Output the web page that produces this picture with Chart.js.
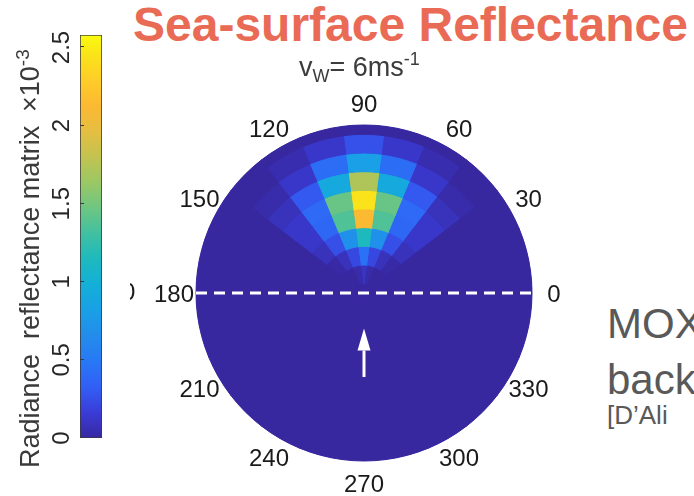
<!DOCTYPE html>
<html>
<head>
<meta charset="utf-8">
<title>Sea-surface Reflectance</title>
<script src="https://cdn.jsdelivr.net/npm/chart.js@4.4.1/dist/chart.umd.min.js"></script>
<style>
  html, body { margin: 0; padding: 0; width: 694px; height: 496px; overflow: hidden; background: #fff; }
  body { position: relative; font-family: "Liberation Sans", Arial, Helvetica, sans-serif; }
  .abs { position: absolute; white-space: nowrap; }
  #title { left: 133px; top: 1px; font-size: 48px; line-height: 48px; font-weight: bold; color: #ea6b55; }
  #wind { left: 299px; top: 54px; font-size: 27px; line-height: 27px; color: #3c3c3c; }
  #wind .sub { font-size: 18px; position: relative; top: 6px; }
  #wind .sup { font-size: 18px; position: relative; top: -11px; }
  #cbar-box { left: 0; top: 470px; width: 470px; height: 110px; transform-origin: 0 0; transform: rotate(-90deg); }
  .vlabel { transform-origin: 0 0; transform: rotate(-90deg); font-size: 27px; line-height: 27px; color: #3a3a3a; }
  #cbar-label { left: 17px; top: 468px; }
  #cbar-exp { left: 17px; top: 112px; }
  #cbar-exp .sup { font-size: 19px; position: relative; top: -10px; }
  #polar-box { left: 124px; top: 53px; width: 480px; height: 480px; }
  #stray { left: 130px; top: 278px; width: 8px; height: 30px; overflow: hidden; }
  #stray span { position: absolute; left: -8px; top: 2px; font-size: 24px; line-height: 24px; color: #1a1a1a; }
  .note { color: #595959; }
  #n1 { left: 607px; top: 303px; font-size: 42px; line-height: 42px; }
  #n2 { left: 607px; top: 359px; font-size: 42px; line-height: 42px; }
  #n3 { left: 607px; top: 402px; font-size: 26px; line-height: 26px; }
</style>
</head>
<body>
<div class="abs" id="cbar-box"><canvas id="cbar" width="470" height="110"></canvas></div>
<div class="abs" id="polar-box"><canvas id="polar" width="480" height="480"></canvas></div>

<div class="abs" id="title">Sea-surface Reflectance</div>
<div class="abs" id="wind">v<span class="sub">W</span>= 6ms<span class="sup">-1</span></div>
<div class="abs vlabel" id="cbar-label">Radiance&nbsp; reflectance matrix</div>
<div class="abs vlabel" id="cbar-exp">×10<span class="sup">-3</span></div>
<div class="abs" id="stray"><span>0</span></div>
<div class="abs note" id="n1">MOX</div>
<div class="abs note" id="n2">back</div>
<div class="abs note" id="n3">[D’Ali</div>

<script>
// ---- colour scale (×10^-3) ----
const CMAX = 2.58;
const CB_TICKS = [0, 0.5, 1, 1.5, 2, 2.5];

// ---- polar grid ----
const ANGLE_TICKS = [0, 30, 60, 90, 120, 150, 180, 210, 240, 270, 300, 330];
const AZ_BINS = [0, 15, 30, 45, 60, 75, 90, 105, 120, 135, 150, 165,
                 180, 195, 210, 225, 240, 255, 270, 285, 300, 315, 330, 345];
const AZ_STEP = 15;
const ZEN_MAX = 90;
// ring edges in zenith degrees, outermost first
const ZEN_EDGES = [90, 85, 75, 65, 55, 45, 35, 25, 15, 5, 0];

// azimuth columns holding non-zero reflectance
const AZ_COLS = [45, 60, 75, 90, 105, 120, 135];
// reflectance (×10^-3) per zenith ring, over AZ_COLS
const REFL_Z10 = [0.00, 0.00, 0.03, 0.10, 0.03, 0.00, 0.00];
const REFL_Z20 = [0.02, 0.08, 0.22, 0.45, 0.22, 0.08, 0.02];
const REFL_Z30 = [0.08, 0.25, 0.70, 1.14, 0.70, 0.25, 0.08];
const REFL_Z40 = [0.12, 0.38, 1.36, 2.13, 1.36, 0.38, 0.12];
const REFL_Z50 = [0.12, 0.40, 1.45, 2.45, 1.45, 0.40, 0.12];
const REFL_Z60 = [0.08, 0.30, 0.92, 1.72, 0.92, 0.30, 0.08];
const REFL_Z70 = [0.03, 0.12, 0.42, 0.82, 0.42, 0.12, 0.03];
const REFL_Z80 = [0.00, 0.04, 0.12, 0.26, 0.12, 0.04, 0.00];
const ROWS = { 10: REFL_Z10, 20: REFL_Z20, 30: REFL_Z30, 40: REFL_Z40,
               50: REFL_Z50, 60: REFL_Z60, 70: REFL_Z70, 80: REFL_Z80 };

// wind arrow: azimuth and zenith span
const ARROW = { azimuth: 270, fromZenith: 45, toZenith: 19 };

// ---- parula-style colormap anchors [t, r, g, b] ----
const PARULA = [
  [0.000, 56, 40, 160], [0.063, 58, 60, 215], [0.127, 50, 95, 245],
  [0.190, 40, 120, 245], [0.254, 35, 140, 235], [0.317, 25, 160, 230],
  [0.381, 20, 175, 215], [0.444, 30, 185, 190], [0.508, 65, 192, 160],
  [0.571, 110, 198, 130], [0.635, 155, 200, 100], [0.698, 195, 195, 80],
  [0.762, 230, 190, 65], [0.825, 252, 185, 50], [0.889, 255, 205, 40],
  [0.952, 250, 228, 25], [1.000, 249, 251, 14]
];
function parula(t) {
  t = Math.max(0, Math.min(1, t));
  for (let i = 1; i < PARULA.length; i++) {
    const [t1, ...c1] = PARULA[i];
    const [t0, ...c0] = PARULA[i - 1];
    if (t <= t1 + 1e-9) {
      const f = (t - t0) / (t1 - t0);
      const c = c0.map((v, k) => Math.round(v + (c1[k] - v) * f));
      return `rgb(${c[0]},${c[1]},${c[2]})`;
    }
  }
  return 'rgb(249,251,14)';
}

const FONT = '"Liberation Sans", Arial, Helvetica, sans-serif';

// ---------------- colour bar ----------------
function colourbarFill(ctx) {
  const chart = ctx.chart;
  const xs = chart.scales.x;
  if (!chart.chartArea || !xs) return parula(0);
  const x0 = xs.getPixelForValue(0), x1 = xs.getPixelForValue(CMAX);
  const g = chart.ctx.createLinearGradient(x0, 0, x1, 0);
  PARULA.forEach(([t, r, gg, b]) => g.addColorStop(t, `rgb(${r},${gg},${b})`));
  return g;
}

const colourbarTicks = {
  id: 'colourbarTicks',
  afterDatasetsDraw(chart) {
    const { ctx, chartArea } = chart;
    const xs = chart.scales.x;
    ctx.save();
    ctx.strokeStyle = '#3a3a3a';
    ctx.lineWidth = 1;
    xs.ticks.forEach(t => {
      const px = Math.round(xs.getPixelForValue(t.value)) + 0.5;
      ctx.beginPath();
      ctx.moveTo(px, chartArea.top);
      ctx.lineTo(px, chartArea.top + 4);
      ctx.stroke();
    });
    ctx.restore();
  }
};

new Chart(document.getElementById('cbar'), {
  type: 'bar',
  data: {
    labels: [''],
    datasets: [{
      data: [[0, CMAX]],
      backgroundColor: colourbarFill,
      borderColor: '#3a3a3a',
      borderWidth: 1,
      borderSkipped: false,
      barPercentage: 1,
      categoryPercentage: 1
    }]
  },
  options: {
    indexAxis: 'y',
    responsive: false,
    animation: false,
    events: [],
    layout: { padding: { left: 32, right: 35, top: 0, bottom: 8 } },
    plugins: { legend: { display: false }, tooltip: { enabled: false } },
    scales: {
      x: {
        type: 'linear',
        position: 'top',
        min: 0,
        max: CMAX,
        afterBuildTicks: s => { s.ticks = CB_TICKS.map(v => ({ value: v })); },
        afterFit: s => { s.height = 80; },
        grid: { display: false, drawTicks: false },
        border: { display: false },
        ticks: {
          font: { size: 24, family: FONT },
          color: '#262626',
          padding: 3,
          maxRotation: 0,
          autoSkip: false,
          callback: v => String(v)
        }
      },
      y: { display: false }
    }
  },
  plugins: [colourbarTicks]
});

// ---------------- polar reflectance map ----------------
// doughnut segments run clockwise from the top; list azimuths in that order
const SEGMENT_AZ = AZ_BINS.map((_, k) => ((90 - k * AZ_STEP) % 360 + 360) % 360);

function cellValue(az, zc) {
  const row = ROWS[zc];
  if (!row) return 0;
  const i = AZ_COLS.indexOf(az);
  return i < 0 ? 0 : row[i];
}

const rings = [];
for (let i = 0; i < ZEN_EDGES.length - 1; i++) {
  const outer = ZEN_EDGES[i], inner = ZEN_EDGES[i + 1];
  const zc = (outer + inner) / 2;
  const colours = SEGMENT_AZ.map(az => parula(cellValue(az, zc) / CMAX));
  rings.push({
    data: SEGMENT_AZ.map(() => AZ_STEP),
    backgroundColor: colours,
    borderColor: colours,
    borderWidth: 1,
    weight: (outer - inner) / 10
  });
}

const polarDecor = {
  id: 'polarDecor',
  geometry(chart) {
    const arc = chart.getDatasetMeta(0).data[0];
    return { cx: arc.x, cy: arc.y, R: arc.outerRadius };
  },
  beforeDatasetsDraw(chart) {
    const { cx, cy, R } = this.geometry(chart);
    const ctx = chart.ctx;
    ctx.save();
    ctx.fillStyle = parula(0);
    ctx.beginPath();
    ctx.arc(cx, cy, R, 0, Math.PI * 2);
    ctx.fill();
    ctx.restore();
  },
  afterDatasetsDraw(chart) {
    const { cx, cy, R } = this.geometry(chart);
    const ctx = chart.ctx;
    const rz = z => z / ZEN_MAX * R;
    ctx.save();

    // 0–180 reference line
    ctx.strokeStyle = '#ffffff';
    ctx.lineWidth = 3;
    ctx.setLineDash([11, 7]);
    ctx.beginPath();
    ctx.moveTo(cx - R, cy);
    ctx.lineTo(cx + R, cy);
    ctx.stroke();
    ctx.setLineDash([]);

    // wind arrow
    const a = ARROW.azimuth * Math.PI / 180;
    const ux = Math.cos(a), uy = -Math.sin(a);
    const x0 = cx + rz(ARROW.fromZenith) * ux, y0 = cy + rz(ARROW.fromZenith) * uy;
    const x1 = cx + rz(ARROW.toZenith) * ux, y1 = cy + rz(ARROW.toZenith) * uy;
    const len = Math.hypot(x1 - x0, y1 - y0);
    const head = 22, half = 6.5;
    const bx = x1 - head * (x1 - x0) / len;
    const by = y1 - head * (y1 - y0) / len;
    ctx.lineWidth = 3;
    ctx.beginPath();
    ctx.moveTo(x0, y0);
    ctx.lineTo(bx, by);
    ctx.stroke();
    ctx.fillStyle = '#ffffff';
    ctx.beginPath();
    ctx.moveTo(x1, y1);
    ctx.lineTo(bx - half * uy, by + half * ux);
    ctx.lineTo(bx + half * uy, by - half * ux);
    ctx.closePath();
    ctx.fill();

    // azimuth labels
    ctx.fillStyle = '#1a1a1a';
    ctx.font = `24px ${FONT}`;
    ctx.textAlign = 'center';
    ctx.textBaseline = 'alphabetic';
    const L = R + 22;
    ANGLE_TICKS.forEach(deg => {
      const t = deg * Math.PI / 180;
      const x = cx + L * Math.cos(t);
      const y = cy - L * Math.sin(t);
      ctx.fillText(String(deg), x, y + 8.5);
    });
    ctx.restore();
  }
};

new Chart(document.getElementById('polar'), {
  type: 'doughnut',
  data: { labels: SEGMENT_AZ.map(String), datasets: rings },
  options: {
    responsive: false,
    animation: false,
    events: [],
    rotation: -AZ_STEP / 2,
    cutout: 0,
    layout: { padding: 71.5 },
    plugins: { legend: { display: false }, tooltip: { enabled: false } }
  },
  plugins: [polarDecor]
});
</script>
</body>
</html>
